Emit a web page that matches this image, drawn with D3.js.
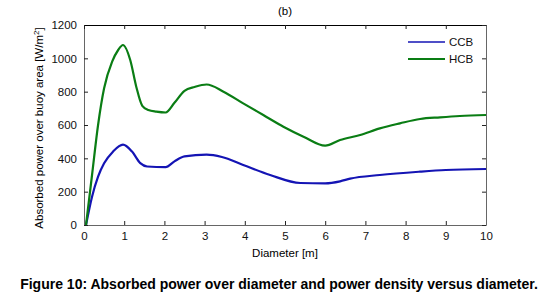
<!DOCTYPE html>
<html>
<head>
<meta charset="utf-8">
<script src="https://cdn.jsdelivr.net/npm/d3@7"></script>
<style>
  body { margin: 0; background: #fff; }
  svg text { font-family: Arial, "Liberation Sans", sans-serif; }
</style>
</head>
<body>
<svg id="chart" width="558" height="307"></svg>
<script>
// values
var diamCCB = [0.05, 0.2, 0.35, 0.5, 0.72, 0.97, 1.19, 1.4, 1.57, 2.03, 2.25, 2.5, 3.05, 3.43, 3.96, 4.63, 5.38, 6.0, 6.37, 6.62, 7.36, 8.36, 9.0, 10]
var ccb = [0, 170, 290, 370, 440, 482, 442, 371, 351, 347, 382, 412, 422, 408, 360, 300, 252, 250, 262, 278, 300, 320, 330, 336]

var diamHCB = [0.05, 0.2, 0.35, 0.5, 0.7, 0.85, 0.97, 1.15, 1.3, 1.45, 1.6, 1.8, 2.03, 2.25, 2.5, 2.75, 3.05, 3.47, 3.96, 4.46, 4.96, 5.46, 6.0, 6.37, 6.87, 7.36, 7.86, 8.36, 8.86, 9.35, 10]
var hcb = [0, 300, 600, 820, 980, 1050, 1080, 990, 830, 715, 690, 680, 675, 733, 805, 828, 843, 800, 730, 660, 590, 530, 476, 510, 540, 580, 610, 636, 646, 654, 660]

var xTicks = [0, 1, 2, 3, 4, 5, 6, 7, 8, 9, 10]
var yTicks = [0, 200, 400, 600, 800, 1000, 1200]
var seriesNames = ['CCB', 'HCB']
var seriesColors = ['#1414b4', '#0a7d14']

var margin = {top: 25, right: 72, bottom: 82, left: 84},
    width = 558 - margin.left - margin.right,
    height = 307 - margin.top - margin.bottom;

var svg = d3.select('#chart')
var g = svg.append('g')
    .attr('transform', 'translate(' + margin.left + ',' + margin.top + ')')

var x = d3.scaleLinear().domain([0, 10]).range([0, width])
var y = d3.scaleLinear().domain([0, 1200]).range([height, 0])

// axes, matlab style: ticks inside, box around
var axisColor = '#666'
function styleAxis(sel) {
    sel.selectAll('.domain').attr('stroke', axisColor)
    sel.selectAll('.tick line').attr('stroke', '#222')
    sel.selectAll('text').attr('fill', '#111').style('font-size', '11.5px')
}

g.append('g')
    .attr('transform', 'translate(0,' + height + ')')
    .call(d3.axisBottom(x).tickValues(xTicks).tickSizeInner(-4).tickSizeOuter(0).tickPadding(7).tickFormat(d3.format('d')))
    .call(styleAxis)

g.append('g')
    .call(d3.axisLeft(y).tickValues(yTicks).tickSizeInner(-4).tickSizeOuter(0).tickPadding(7).tickFormat(d3.format('d')))
    .call(styleAxis)

g.append('g')
    .call(d3.axisTop(x).tickValues(xTicks).tickSizeInner(-4).tickSizeOuter(0).tickFormat(''))
    .call(styleAxis)
    .select('.domain').attr('stroke', '#000')

g.append('g')
    .attr('transform', 'translate(' + width + ',0)')
    .call(d3.axisRight(y).tickValues(yTicks).tickSizeInner(-4).tickSizeOuter(0).tickFormat(''))
    .call(styleAxis)

// lines
var line = d3.line()
    .x(function (d) { return x(d[0]) })
    .y(function (d) { return y(d[1]) })
    .curve(d3.curveMonotoneX)

var series = [d3.zip(diamCCB, ccb), d3.zip(diamHCB, hcb)]
series.forEach(function (s, i) {
    g.append('path')
        .datum(s)
        .attr('fill', 'none')
        .attr('stroke', seriesColors[i])
        .attr('stroke-width', 2.2)
        .attr('stroke-linejoin', 'round')
        .attr('d', line)
})

// legend
seriesNames.forEach(function (name, i) {
    var ly = 17 + i * 17
    g.append('line')
        .attr('x1', 324).attr('x2', 361)
        .attr('y1', ly).attr('y2', ly)
        .attr('stroke', seriesColors[i])
        .attr('stroke-width', i == 0 ? 1.5 : 2.2)
    g.append('text')
        .attr('x', 365).attr('y', ly + 4)
        .style('font-size', '11.5px')
        .attr('fill', '#111')
        .text(name)
})

// titles
svg.append('text')
    .attr('x', margin.left + width / 2).attr('y', 15)
    .attr('text-anchor', 'middle')
    .style('font-size', '11.5px')
    .text('(b)')

svg.append('text')
    .attr('x', margin.left + width / 2).attr('y', 257)
    .attr('text-anchor', 'middle')
    .style('font-size', '11.5px')
    .text('Diameter [m]')

var yl = svg.append('text')
    .attr('transform', 'translate(43,' + (margin.top + height / 2 + 3) + ') rotate(-90)')
    .attr('text-anchor', 'middle')
    .style('font-size', '11.5px')
yl.append('tspan').text('Absorbed power over buoy area [W/m')
yl.append('tspan').attr('baseline-shift', 'super').style('font-size', '8px').text('2')
yl.append('tspan').text(']')

svg.append('text')
    .attr('x', 279).attr('y', 289)
    .attr('text-anchor', 'middle')
    .style('font-size', '14px')
    .style('font-weight', 'bold')
    .text('Figure 10: Absorbed power over diameter and power density versus diameter.')
</script>
</body>
</html>
